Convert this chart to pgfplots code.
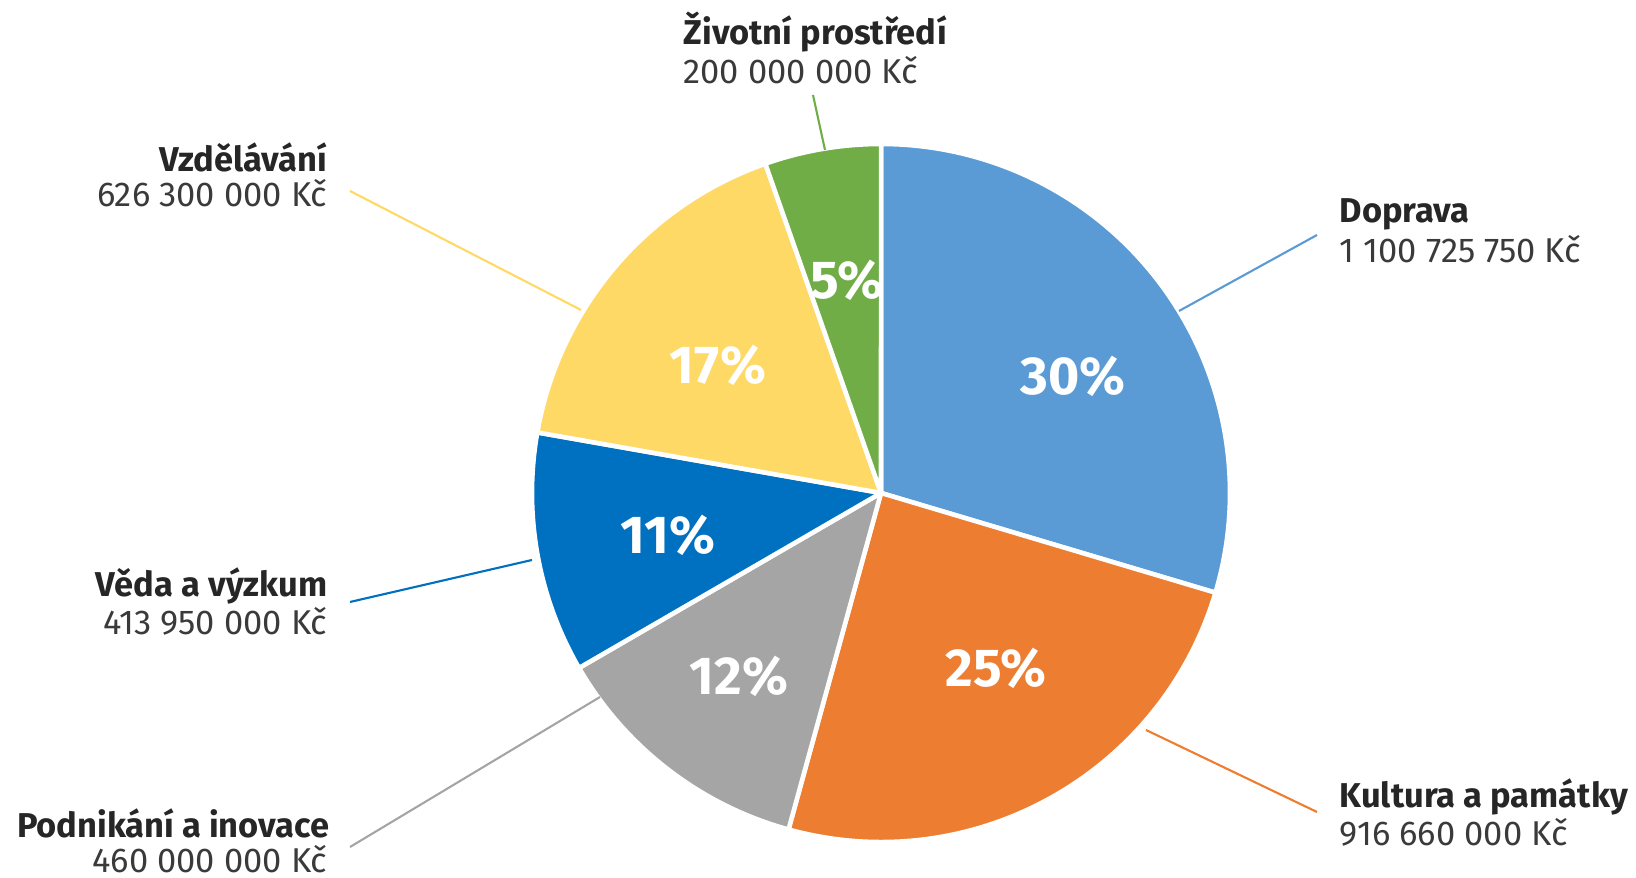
\documentclass[border=0pt]{standalone}
\usepackage{fontspec}
\setmainfont{Fira Sans}
\usepackage{pgfplots}
\usepackage{pgfplotstable}
\pgfplotsset{compat=1.18}

\definecolor{cDop}{HTML}{5B9BD5}
\definecolor{cKul}{HTML}{ED7D31}
\definecolor{cPod}{HTML}{A5A5A5}
\definecolor{cVed}{HTML}{0070C0}
\definecolor{cVzd}{HTML}{FFD966}
\definecolor{cZiv}{HTML}{70AD47}
\definecolor{txt}{HTML}{262626}
\definecolor{txtv}{HTML}{3A3A3A}

\tikzset{
  name lab/.style={font=\fontsize{9.8}{11}\selectfont\bfseries, text=txt, inner sep=0pt},
  val lab/.style={font=\fontsize{9.8}{11}\selectfont, text=txtv, inner sep=0pt},
  pct/.style={font=\fontsize{15.2}{17}\selectfont\bfseries, text=white, inner sep=0pt},
  leader/.style={line width=0.6pt},
}

% amounts in millions of CZK, clockwise from 12 o'clock
\pgfplotstableread[col sep=comma]{
sector,mil
Doprava,1100.72575
Kultura,916.66
Podnikani,460.0
Veda,413.95
Vzdelavani,626.3
Zivotni,200.0
}\budget

\pgfmathsetmacro\total{0}
\foreach \i in {0,...,5}{%
  \pgfplotstablegetelem{\i}{mil}\of\budget
  \pgfmathsetmacro\tmp{\total+\pgfplotsretval}%
  \global\let\total\tmp}
\gdef\acc{90}
\foreach \i in {0,...,5}{%
  \pgfplotstablegetelem{\i}{mil}\of\budget
  \pgfmathsetmacro\tmp{\acc-360*(\pgfplotsretval/\total)}%
  \expandafter\xdef\csname s\i\endcsname{\acc}%
  \expandafter\xdef\csname e\i\endcsname{\tmp}%
  \global\let\acc\tmp}

\def\R{3.49cm}
\newcommand\pieslice[2]{%
  \filldraw[fill=#2, draw=white, line width=1.3pt, line join=round]
    (axis cs:881,-493) -- ++(\csname s#1\endcsname:\R)
    arc[start angle=\csname s#1\endcsname, end angle=\csname e#1\endcsname, radius=\R] -- cycle;}

\begin{document}
\begin{tikzpicture}
\begin{axis}[
  scale only axis, width=16.36cm, height=8.78cm,
  xmin=0, xmax=1636, ymin=-878, ymax=0,
  hide axis, clip=false,
]
\coordinate (bl) at (axis cs:0,-878);
\coordinate (tr) at (axis cs:1636,0);

\pieslice{0}{cDop}
\pieslice{1}{cKul}
\pieslice{2}{cPod}
\pieslice{3}{cVed}
\pieslice{4}{cVzd}
\pieslice{5}{cZiv}

% leader lines
\draw[cDop, leader] (axis cs:1179,-311) -- (axis cs:1317,-235);
\draw[cKul, leader] (axis cs:1146,-730) -- (axis cs:1317,-812);
\draw[cPod, leader] (axis cs:600,-697) -- (axis cs:350,-847);
\draw[cVed, leader] (axis cs:532,-560) -- (axis cs:350,-602);
\draw[cVzd, leader] (axis cs:581,-310) -- (axis cs:350,-191);
\draw[cZiv, leader] (axis cs:825,-150) -- (axis cs:813,-95);

% percentages
\node[pct] at (axis cs:1073,-376) {30\%};
\node[pct] at (axis cs:996,-668) {25\%};
\node[pct] at (axis cs:739,-676) {12\%};
\node[pct] at (axis cs:668,-535) {11\%};
\node[pct] at (axis cs:718,-365) {17\%};
\node[pct] at (axis cs:847,-280) {5\%};

% category labels
\node[name lab, anchor=base west] at (axis cs:1339,-223) {Doprava};
\node[val lab, anchor=base west] at (axis cs:1339,-263) {1 100 725 750 Kč};
\node[name lab, anchor=base west] at (axis cs:1339,-808) {Kultura a památky};
\node[val lab, anchor=base west] at (axis cs:1339,-846) {916 660 000 Kč};
\node[name lab, anchor=base east] at (axis cs:330,-838) {Podnikání a inovace};
\node[val lab, anchor=base east] at (axis cs:328,-873) {460 000 000 Kč};
\node[name lab, anchor=base east] at (axis cs:328,-597) {Věda a výzkum};
\node[val lab, anchor=base east] at (axis cs:328,-635) {413 950 000 Kč};
\node[name lab, anchor=base east] at (axis cs:328,-172) {Vzdělávání};
\node[val lab, anchor=base east] at (axis cs:328,-207) {626 300 000 Kč};
\node[name lab, anchor=base west] at (axis cs:683,-45) {Životní prostředí};
\node[val lab, anchor=base west] at (axis cs:683,-84) {200 000 000 Kč};
\end{axis}
\pgfresetboundingbox
\useasboundingbox (bl) rectangle (tr);
\end{tikzpicture}
\end{document}
